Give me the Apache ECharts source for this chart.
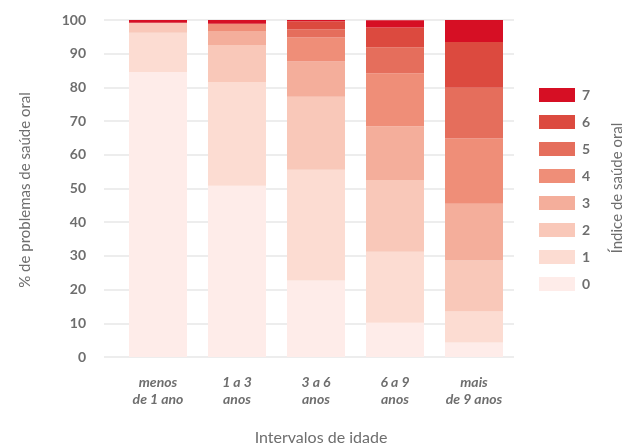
<!DOCTYPE html>
<html>
<head>
<meta charset="utf-8">
<script src="https://cdn.jsdelivr.net/npm/echarts@6/dist/echarts.min.js"></script>
<style>
html,body{margin:0;padding:0;background:#fff;}
#saude_oral{width:629px;height:446px;}
</style>
</head>
<body>
<div id="saude_oral"></div>
<script>
// faixas etárias
var categorias = ['menos\nde 1 ano', '1 a 3\nanos', '3 a 6\nanos', '6 a 9\nanos', 'mais\nde 9 anos'];
var indices = ['0', '1', '2', '3', '4', '5', '6', '7'];
var cores = ['#feece9', '#fcdcd2', '#f9c8b9', '#f4ae9b', '#ef8e78', '#e56e5c', '#dc4a3f', '#d60f24'];

// % por índice de saúde oral
var indice0 = [84.6, 50.8, 22.7, 10.2, 4.3];
var indice1 = [11.6, 30.8, 32.9, 21.0, 9.2];
var indice2 = [3.0, 11.0, 21.6, 21.3, 15.1];
var indice3 = [0, 4.1, 10.5, 16.0, 16.9];
var indice4 = [0, 2.2, 7.1, 15.7, 19.3];
var indice5 = [0, 0, 2.4, 7.7, 15.1];
var indice6 = [0, 0, 2.4, 5.9, 13.6];
var indice7 = [0.8, 1.1, 0.4, 2.1, 6.5];
var valores = [indice0, indice1, indice2, indice3, indice4, indice5, indice6, indice7];

var cinza = '#6e6e6e';
var fonte = 'Lato, "Noto Sans", sans-serif';

var series = [];
for (var i = 0; i < indices.length; i++) {
    series.push({
        name: indices[i],
        type: 'bar',
        stack: 'total',
        xAxisIndex: 0,
        yAxisIndex: 0,
        barWidth: 58,
        data: valores[i],
        itemStyle: {color: cores[i]}
    });
}

var saude_oral = {
    animation: false,
    color: cores,
    grid: [
        {left: 118.5, right: 115.5, top: 20, bottom: 89, outerBoundsMode: 'none'},
        {left: 104, right: 115, top: 20, bottom: 89, outerBoundsMode: 'none'}   // só para as linhas de grade
    ],
    legend: {
        orient: 'vertical',
        left: 539,
        top: 88,
        padding: 0,
        itemWidth: 36,
        itemHeight: 14,
        itemGap: 13,
        icon: 'rect',
        data: indices.slice().reverse(),
        textStyle: {color: cinza, fontSize: 14, fontWeight: 'bold', fontFamily: fonte, padding: [0, 0, 0, 2]}
    },
    xAxis: [
        {
            type: 'category',
            gridIndex: 0,
            data: categorias,
            axisLine: {show: false},
            axisTick: {show: false},
            axisLabel: {
                margin: 17,
                color: cinza,
                fontSize: 14,
                fontStyle: 'italic',
                fontWeight: 'bold',
                fontFamily: fonte,
                lineHeight: 17
            },
            name: 'Intervalos de idade',
            nameLocation: 'middle',
            nameGap: 73,
            nameTextStyle: {color: cinza, fontSize: 16, fontFamily: fonte, padding: [0, 0, 0, 10]}
        },
        {
            type: 'category',
            gridIndex: 1,
            show: false,
            data: ['']
        }
    ],
    yAxis: [
        {
            type: 'value',
            gridIndex: 0,
            min: 0,
            max: 100,
            interval: 10,
            show: false
        },
        {
            type: 'value',
            gridIndex: 1,
            min: 0,
            max: 100,
            interval: 10,
            axisLine: {show: false},
            axisTick: {show: false},
            splitLine: {lineStyle: {color: '#ededed', width: 2}},
            axisLabel: {margin: 18, color: cinza, fontSize: 14, fontWeight: 'bold', fontFamily: fonte},
            name: '% de problemas de saúde oral',
            nameLocation: 'middle',
            nameRotate: 90,
            nameGap: 71,
            nameTextStyle: {color: cinza, fontSize: 15, fontFamily: fonte, padding: [0, 3, 0, 0]}
        }
    ],
    graphic: [
        {
            type: 'text',
            x: 617,
            y: 188,
            rotation: Math.PI / 2,
            style: {
                text: 'Índice de saúde oral',
                fill: cinza,
                font: '15px ' + fonte,
                align: 'center',
                verticalAlign: 'middle'
            }
        }
    ],
    series: series
};

var chart_saude_oral = echarts.init(document.getElementById('saude_oral'));
chart_saude_oral.setOption(saude_oral);
</script>
</body>
</html>
